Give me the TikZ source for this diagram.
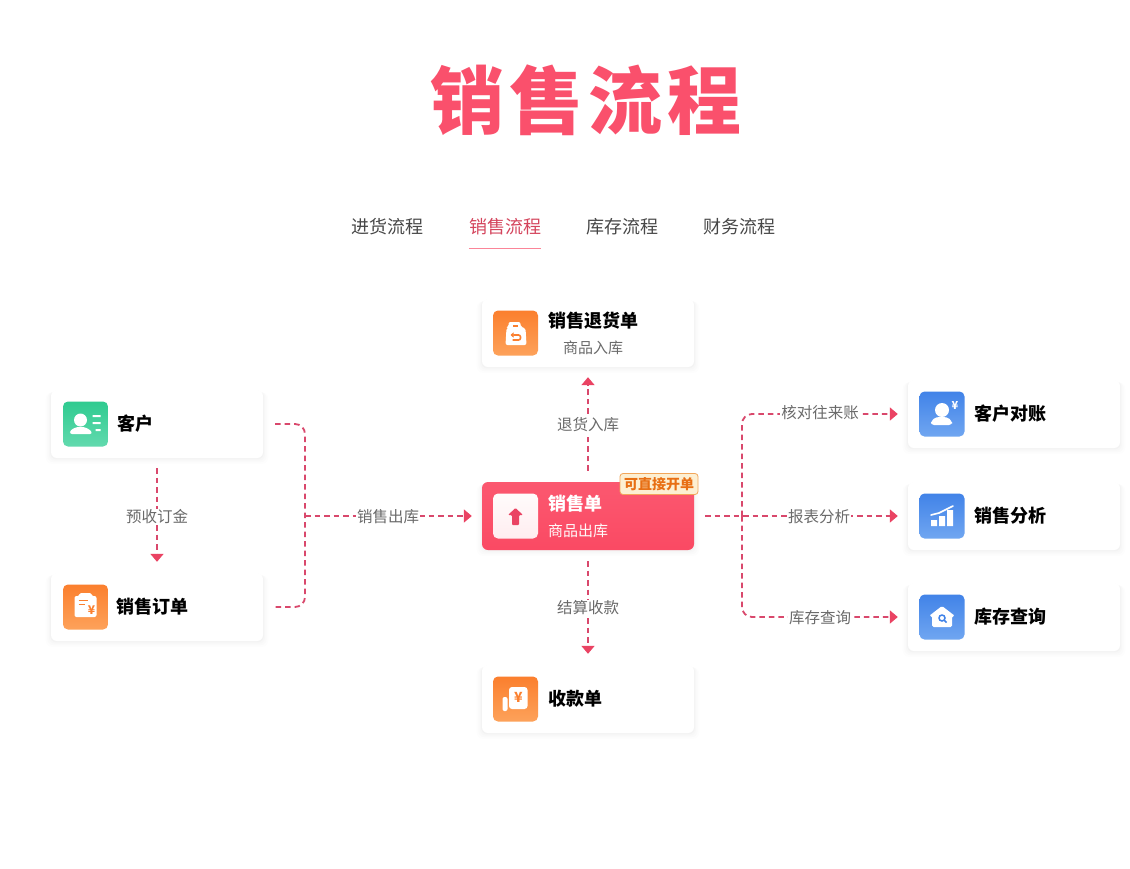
\documentclass[tikz,border=0pt]{standalone}
\usepackage{fontspec}
\setmainfont{Noto Sans CJK SC}
\newfontfamily\titlefont[LetterSpace=7]{Noto Sans CJK SC}
\usetikzlibrary{arrows.meta,shadows,calc}
\definecolor{flowred}{HTML}{D9486C}
\definecolor{tipred}{HTML}{EA4363}
\definecolor{titlered}{HTML}{FA506C}
\definecolor{labelgray}{HTML}{6A6A6A}
\definecolor{orangeA}{HTML}{FB7F2E}
\definecolor{orangeB}{HTML}{FDA25A}
\definecolor{greenA}{HTML}{2FCB90}
\definecolor{greenB}{HTML}{62DAAE}
\definecolor{blueA}{HTML}{4183E8}
\definecolor{blueB}{HTML}{70A6F1}
\definecolor{badgeText}{HTML}{E86F14}
\definecolor{badgeFill}{HTML}{FDEFD2}
\definecolor{badgeLine}{HTML}{F2A65A}
\newcommand{\fs}[1]{\fontsize{#1}{#1}\selectfont}
\tikzset{
  x=1pt,y=-1pt,
  softshadow/.style={
    general shadow={shadow yshift=-4pt,shadow scale=1.05,fill=black,opacity=.008},
    general shadow={shadow yshift=-3pt,shadow scale=1.035,fill=black,opacity=.01},
    general shadow={shadow yshift=-2pt,shadow scale=1.02,fill=black,opacity=.012},
    general shadow={shadow yshift=-1pt,shadow scale=1.008,fill=black,opacity=.014}},
  cardbox/.style={rectangle,rounded corners=6pt,minimum width=212pt,minimum height=68pt,inner sep=0pt,fill=white,softshadow},
  redcard/.style={rectangle,rounded corners=6pt,minimum width=212pt,minimum height=68pt,inner sep=0pt,top color=#1!92!white,bottom color=#1,softshadow},
  iconbox/.style={rectangle,rounded corners=5pt,minimum size=45pt,inner sep=0pt,top color=#1A,bottom color=#1B},
  cardtitle/.style={anchor=west,inner sep=0pt,font=\fs{18}\bfseries,text=black},
  cardsub/.style={inner sep=0pt,font=\fs{15},text=labelgray},
  tabtext/.style={inner sep=0pt,font=\fs{18},text=#1},
  flowlabel/.style={inner sep=1pt,fill=white,font=\fs{15.5},text=labelgray},
  flow/.style={draw=flowred,line width=1.8pt,dash pattern=on 5.5pt off 4pt},
  flowtip/.style={flow,-{Triangle[width=13pt,length=8pt,color=tipred]}},
}
\begin{document}
\begin{tikzpicture}
\useasboundingbox (0,0) rectangle (1130,868);
\fill[white] (0,0) rectangle (1130,868);

% title and tabs
\node[inner sep=0pt,font=\titlefont\fs{74}\bfseries,text=titlered] (title) at (586,100) {销售流程};
\node[tabtext=black!72] (tabA) at (387,227) {进货流程};
\node[tabtext=titlered!85!black] (tabB) at (505,227) {销售流程};
\node[tabtext=black!72] (tabC) at (622,227) {库存流程};
\node[tabtext=black!72] (tabD) at (739,227) {财务流程};
\draw[titlered!70,line width=1pt] ($(tabB.west)+(0,21)$) -- ($(tabB.east)+(0,21)$);

% cards
\node[cardbox] (kehu) at (157,424) {};
\node[cardbox] (ding) at (157,607) {};
\node[cardbox] (tui) at (588,333) {};
\node[redcard=titlered!92!red] (xiao) at (588,516) {};
\node[cardbox] (shou) at (588,699) {};
\node[cardbox] (dui) at (1014,414) {};
\node[cardbox] (fen) at (1014,516) {};
\node[cardbox] (cha) at (1014,617) {};

% icons
\node[iconbox=green] (ikehu) at (85.5,424) {};
\node[iconbox=orange] (iding) at (85.5,607) {};
\node[iconbox=orange] (itui) at (515.5,333) {};
\node[rectangle,rounded corners=5pt,minimum size=45pt,inner sep=0pt,top color=white!95!pink,bottom color=white!70!titlered!35!white] (ixiao) at (515.5,516) {};
\node[iconbox=orange] (ishou) at (515.5,699) {};
\node[iconbox=blue] (idui) at (942,414) {};
\node[iconbox=blue] (ifen) at (942,516) {};
\node[iconbox=blue] (icha) at (942,617) {};

% glyphs inside the icons
\begin{scope}[shift={(ikehu.center)}]
  \fill[white] (-5,-4) circle (6.5);
  \fill[white,rounded corners=2.5pt] (-16,10) -- (-15,6) -- (-9,3) -- (-1,3) -- (5,6) -- (7,10) -- cycle;
  \fill[white] (7,-9) rectangle (15,-7) (7,-2) rectangle (15,0) (10,5) rectangle (15,7);
\end{scope}
\begin{scope}[shift={(iding.center)}]
  \fill[white,rounded corners=2pt] (-11,-11) -- (-6,-11) -- (-6,-14) -- (6,-14) -- (6,-11) -- (11,-11) -- (11,10) -- (-11,10) -- cycle;
  \draw[orangeA,line width=1pt] (-7,-7) -- (2,-7) (-7,-3) -- (-1,-3);
  \node[inner sep=0pt,font=\fs{12}\bfseries,text=orangeA] (yding) at (6,3) {¥};
\end{scope}
\begin{scope}[shift={(itui.center)}]
  \fill[white,rounded corners=2pt] (-7,-11) -- (5,-11) -- (5,-6) -- (10,-5) -- (11,12) -- (-10,12) -- (-9,-5) -- (-7,-6) -- cycle;
  \fill[orangeA] (-2.5,-8) rectangle (2.5,-6);
  \draw[orangeA,line width=1.6pt,rounded corners=2pt,-{Triangle[width=5pt,length=3pt]}] (-3,7) -- (5,7) -- (5,2) -- (-5,2);
\end{scope}
\begin{scope}[shift={(ixiao.center)}]
  \fill[tipred,rounded corners=1pt] (0,-8) -- (7.5,-1) -- (3.5,-1) -- (3.5,9) -- (-3.5,9) -- (-3.5,-1) -- (-7.5,-1) -- cycle;
\end{scope}
\begin{scope}[shift={(ishou.center)}]
  \fill[white,rounded corners=2pt] (-13,-2) rectangle (-8,12);
  \fill[white,rounded corners=3pt] (-6.5,-12) rectangle (12,10);
  \node[inner sep=0pt,font=\fs{14}\bfseries,text=orangeA] (yshou) at (3,-2) {¥};
\end{scope}
\begin{scope}[shift={(idui.center)}]
  \fill[white] (0,-4) circle (7);
  \fill[white,rounded corners=3pt] (-11,11) -- (-11,7) -- (-6,3) -- (5,3) -- (10,7) -- (10,11) -- cycle;
  \node[inner sep=0pt,font=\fs{11}\bfseries,text=white] (ydui) at (13,-9) {¥};
\end{scope}
\begin{scope}[shift={(ifen.center)}]
  \fill[white] (-11,4) rectangle (-5,10) (-3,0) rectangle (3,10) (5,-6) rectangle (11,10);
  \draw[white,line width=1.6pt,line cap=round] (-11,-1) -- (-3,-3) -- (5,-7) -- (11,-10);
\end{scope}
\begin{scope}[shift={(icha.center)}]
  \fill[white,rounded corners=1.5pt] (0,-11) -- (13,-1) -- (10,-1) -- (10,10) -- (-10,10) -- (-10,-1) -- (-13,-1) -- cycle;
  \draw[blueA,line width=1.5pt] (0,1) circle (3);
  \draw[blueA,line width=1.5pt] (2.2,3.2) -- (4.5,5.5);
\end{scope}

% card texts
\node[cardtitle] (tkehu) at (117,424) {客户};
\node[cardtitle] (tding) at (116,607) {销售订单};
\node[cardtitle] (ttui) at (548,321) {销售退货单};
\node[cardsub] (stui) at (593,348) {商品入库};
\node[cardtitle,text=white] (txiao) at (548,504) {销售单};
\node[cardsub,text=white!92!pink,anchor=west] (sxiao) at (548,531) {商品出库};
\node[cardtitle] (tshou) at (548,699) {收款单};
\node[cardtitle] (tdui) at (974,414) {客户对账};
\node[cardtitle] (tfen) at (974,516) {销售分析};
\node[cardtitle] (tcha) at (974,617) {库存查询};

% badge
\node[rectangle,rounded corners=3pt,draw=badgeLine,line width=.8pt,fill=badgeFill,minimum width=78pt,minimum height=21pt,inner sep=0pt,font=\fs{14}\bfseries,text=badgeText] (badge) at (659,484) {可直接开单};

% connector helpers
\coordinate (busL) at (305,516);
\coordinate (busR) at (742,516);

% connectors
\draw[flowtip,shorten <=10pt,shorten >=11pt] (kehu.south) -- (ding.north);
\draw[flow,rounded corners=10pt,shorten <=12pt,shorten >=12pt] (kehu.east) -- (busL |- kehu.east) -- (busL |- ding.east) -- (ding.east);
\draw[flowtip,shorten >=10pt] (busL) -- (xiao.west);
\draw[flowtip,shorten <=11pt,shorten >=10pt] (xiao.north) -- (tui.south);
\draw[flowtip,shorten <=11pt,shorten >=11pt] (xiao.south) -- (shou.north);
\draw[flowtip,shorten <=11pt,shorten >=10pt] (xiao.east) -- (fen.west);
\draw[flowtip,rounded corners=10pt,shorten >=10pt] (busR) -- (busR |- dui.west) -- (dui.west);
\draw[flowtip,rounded corners=10pt,shorten >=10pt] (busR) -- (busR |- cha.west) -- (cha.west);

% connector labels
\node[flowlabel] (l1) at (157,517) {预收订金};
\node[flowlabel] (l2) at (388,517) {销售出库};
\node[flowlabel] (l3) at (588,425) {退货入库};
\node[flowlabel] (l4) at (588,608) {结算收款};
\node[flowlabel] (l5) at (820,413) {核对往来账};
\node[flowlabel] (l6) at (819,517) {报表分析};
\node[flowlabel] (l7) at (820,618) {库存查询};
\end{tikzpicture}
\end{document}
